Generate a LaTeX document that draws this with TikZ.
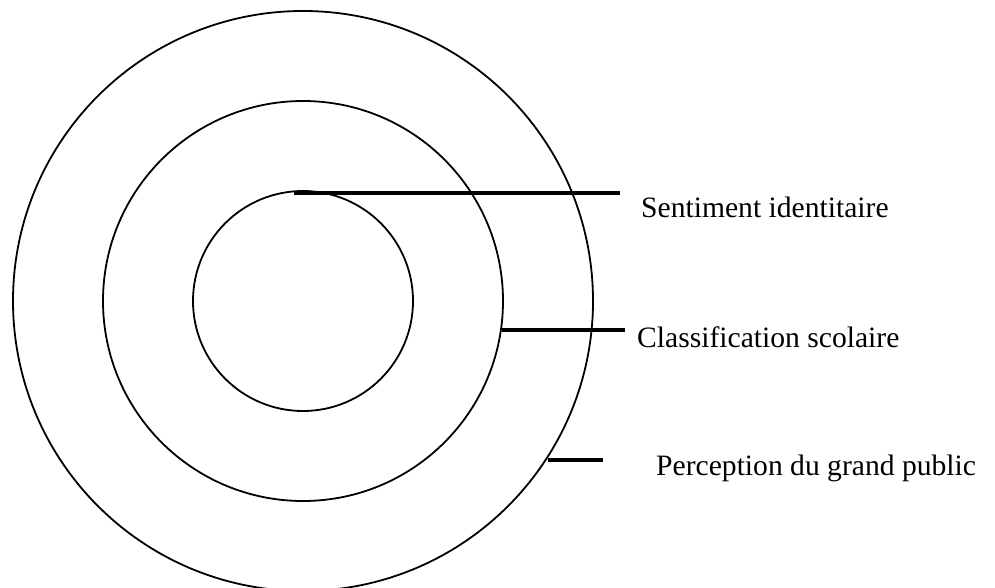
\documentclass[tikz,border=0pt]{standalone}
\usepackage{fontspec}
\setmainfont{Liberation Serif}
\tikzset{
  ring/.style={draw, circle, line width=1.8pt, inner sep=0pt},
  bar/.style={line width=4.5pt},
  tag/.style={anchor=base west, inner sep=0pt, font=\fontsize{29.6}{34}\selectfont}
}
\begin{document}
\begin{tikzpicture}[x=1pt, y=-1pt]
  \useasboundingbox (0,0) rectangle (995,588);
  \clip (0,0) rectangle (995,588);
  \node[ring, minimum size=580pt] (outer) at (303,301) {};
  \node[ring, minimum size=400pt] (middle) at (303,301) {};
  \node[ring, minimum size=220pt] (inner) at (303,301) {};
  \coordinate (s1) at (294,193);
  \coordinate (e1) at (620,193);
  \coordinate (s2) at (502,330);
  \coordinate (e2) at (625,330);
  \coordinate (s3) at (548,460);
  \coordinate (e3) at (603,460);
  \node[tag] (sentiment) at (641,217) {Sentiment identitaire};
  \node[tag] (classification) at (637,347) {Classification scolaire};
  \node[tag] (perception) at (656,475) {Perception du grand public};
  \begin{scope}[bar]
    \draw (s1) to (e1);
    \draw (s2) to (e2);
    \draw (s3) to (e3);
  \end{scope}
\end{tikzpicture}
\end{document}
